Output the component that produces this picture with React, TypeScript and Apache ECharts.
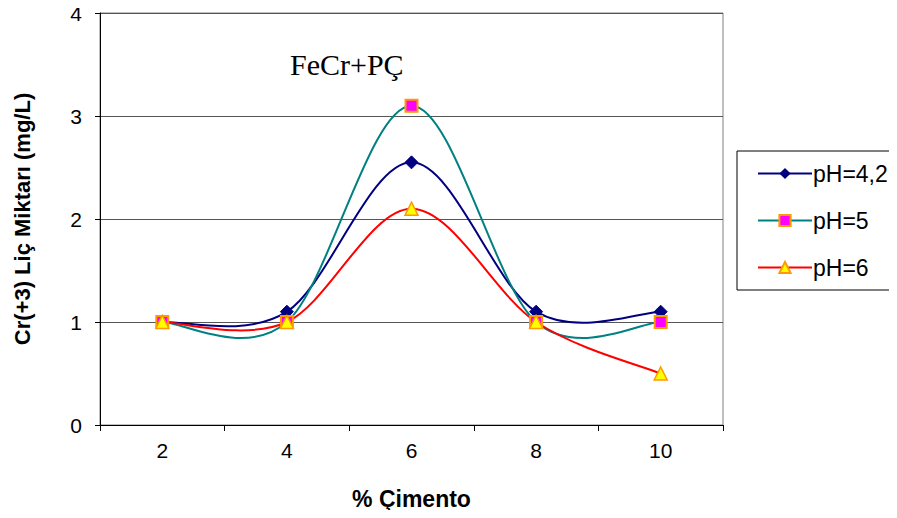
import React, { useEffect, useRef } from "react";
import * as echarts from "echarts";

const categories = ["2", "4", "6", "8", "10"];
const ph42 = [1, 1.1, 2.55, 1.1, 1.1];
const ph5 = [1, 1, 3.1, 1, 1];
const ph6 = [1, 1, 2.1, 1, 0.5];
const seriesNames = ["pH=4,2", "pH=5", "pH=6"];
const lineColors = ["#000080", "#008080", "#FF0000"];

function smoothCurve(values: number[], color: string) {
  return {
    type: "custom",
    coordinateSystem: "cartesian2d",
    silent: true,
    z: 2,
    data: values.map((v, i) => [i, v]),
    encode: { x: 0, y: 1 },
    renderItem: (params: any, api: any) => {
      const i = params.dataIndex;
      const n = values.length;
      if (i >= n - 1) return { type: "group", children: [] };
      const pt = (k: number) => {
        const kk = Math.max(0, Math.min(n - 1, k));
        return api.coord([kk, values[kk]]);
      };
      const p0 = pt(i - 1);
      const p1 = pt(i);
      const p2 = pt(i + 1);
      const p3 = pt(i + 2);
      return {
        type: "bezierCurve",
        shape: {
          x1: p1[0],
          y1: p1[1],
          x2: p2[0],
          y2: p2[1],
          cpx1: p1[0] + (p2[0] - p0[0]) / 6,
          cpy1: p1[1] + (p2[1] - p0[1]) / 6,
          cpx2: p2[0] - (p3[0] - p1[0]) / 6,
          cpy2: p2[1] - (p3[1] - p1[1]) / 6,
        },
        style: { stroke: color, lineWidth: 2, fill: "none" },
      };
    },
  };
}

export default function App() {
  const ref = useRef<HTMLDivElement>(null);
  useEffect(() => {
    if (!ref.current) return;
    const chart = echarts.init(ref.current, null, { renderer: "svg" });
    const font = "Arial, 'Liberation Sans', sans-serif";
    chart.setOption({
      animation: false,
      backgroundColor: "#fff",
      title: {
        text: "FeCr+PÇ",
        left: 285,
        top: 44,
        textStyle: {
          fontFamily: "'Liberation Serif', 'Times New Roman', serif",
          fontSize: 30,
          fontWeight: "normal",
          color: "#000",
        },
      },
      grid: { left: 100, right: 174, top: 13, bottom: 93, show: true, borderColor: "#808080", borderWidth: 1 },
      graphic: [
        {
          type: "rect",
          shape: { x: 737, y: 151, width: 170, height: 139 },
          style: { fill: "none", stroke: "#000", lineWidth: 1 },
        },
      ],
      legend: {
        orient: "vertical",
        left: 752,
        top: 157,
        itemWidth: 54,
        itemHeight: 14,
        itemGap: 24,
        data: seriesNames.map((name, i) => ({
          name,
          lineStyle: { color: lineColors[i], width: 2, opacity: 1 },
        })),
        textStyle: { fontFamily: font, fontSize: 23, color: "#000", padding: [0, 0, 0, -4] },
      },
      xAxis: {
        type: "category",
        data: categories,
        boundaryGap: true,
        name: "% Çimento",
        nameLocation: "middle",
        nameGap: 62,
        nameTextStyle: { fontFamily: font, fontSize: 23, fontWeight: "bold", color: "#000" },
        axisLine: { lineStyle: { color: "#000", width: 1 } },
        axisTick: { show: true, length: 6, inside: false, lineStyle: { color: "#000" } },
        axisLabel: { fontFamily: font, fontSize: 21, color: "#000", margin: 15 },
        splitLine: { show: false },
      },
      yAxis: {
        type: "value",
        min: 0,
        max: 4,
        interval: 1,
        name: "Cr(+3) Liç Miktarı (mg/L)",
        nameLocation: "middle",
        nameGap: 67,
        nameRotate: 90,
        nameTextStyle: { fontFamily: font, fontSize: 22, fontWeight: "bold", color: "#000" },
        axisLine: { show: true, lineStyle: { color: "#000", width: 1 } },
        axisTick: { show: true, length: 5, lineStyle: { color: "#000" } },
        axisLabel: { fontFamily: font, fontSize: 21, color: "#000", margin: 18 },
        splitLine: { show: true, lineStyle: { color: "#555", width: 1 } },
      },
      series: [
        smoothCurve(ph42, lineColors[0]),
        smoothCurve(ph5, lineColors[1]),
        smoothCurve(ph6, lineColors[2]),
        {
          name: seriesNames[0],
          type: "line",
          data: ph42,
          z: 3,
          lineStyle: { color: lineColors[0], width: 2, opacity: 0 },
          itemStyle: { color: "#000080", borderColor: "#000080" },
          symbol: "diamond",
          symbolSize: 13,
        },
        {
          name: seriesNames[1],
          type: "line",
          data: ph5,
          z: 4,
          lineStyle: { color: lineColors[1], width: 2, opacity: 0 },
          itemStyle: { color: "#FF00FF", borderColor: "#FF9900", borderWidth: 2 },
          symbol: "rect",
          symbolSize: 12,
        },
        {
          name: seriesNames[2],
          type: "line",
          data: ph6,
          z: 5,
          lineStyle: { color: lineColors[2], width: 2, opacity: 0 },
          itemStyle: { color: "#FFFF00", borderColor: "#FF9900", borderWidth: 1.5 },
          symbol: "triangle",
          symbolSize: 13,
        },
      ],
    });
    return () => chart.dispose();
  }, []);
  return <div ref={ref} style={{ width: 897, height: 518, margin: -8 }} />;
}
